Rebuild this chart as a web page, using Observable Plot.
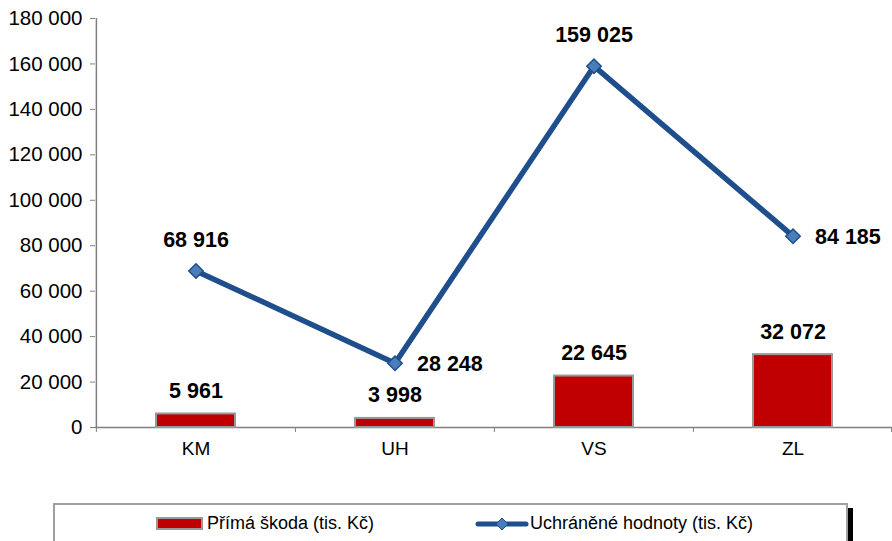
<!DOCTYPE html>
<html><head><meta charset="utf-8">
<script src="https://cdn.jsdelivr.net/npm/d3@7"></script>
<script src="https://cdn.jsdelivr.net/npm/@observablehq/plot@0.6"></script>
<style>
body{margin:0;background:#fff;font-family:"Liberation Sans",Arial,sans-serif;overflow:hidden;width:892px;height:541px;position:relative}
#legend{position:absolute;left:53px;top:503px;width:791px;height:45px;border:2px solid #a0a0a0;box-shadow:5px 5px 0 #000;background:#fff;font-size:18px;color:#000}
.item{position:absolute;top:8px;display:flex;align-items:center;white-space:nowrap}
</style></head><body>
<div id="chart"></div>
<div id="legend">
 <div class="item" style="left:100px"><svg width="50" height="16"><rect x="2" y="2" width="45" height="11" fill="#C00000" stroke="#999" stroke-width="2"/></svg><span style="margin-left:2px">Přímá škoda (tis. Kč)</span></div>
 <div class="item" style="left:420px"><svg width="54" height="16"><line x1="3" y1="8" x2="51" y2="8" stroke="#1F4E8C" stroke-width="5" stroke-linecap="round"/><path d="M27 2 L33 8 L27 14 L21 8 Z" fill="#4A7EBB" stroke="#1F4E8C" stroke-width="1"/></svg><span style="margin-left:1px">Uchráněné hodnoty (tis. Kč)</span></div>
</div>
<script>
const categories = ["KM","UH","VS","ZL"];
const primaSkoda = [5961, 3998, 22645, 32072];
const uchraneneHodnoty = [68916, 28248, 159025, 84185];
const yTicks = [0,20000,40000,60000,80000,100000,120000,140000,160000,180000];

const loc = d3.formatLocale({decimal:",", thousands:" ", grouping:[3], currency:["",""]});
const fmt = loc.format(",d");
const bars = categories.map((c,i)=>({cat:c, v:primaSkoda[i]}));
const pts = categories.map((c,i)=>({cat:c, v:uchraneneHodnoty[i], i}));
const half = 99.6;

const plot = Plot.plot({
  width: 892, height: 470,
  marginLeft: 95, marginRight: 0, marginTop: 18, marginBottom: 43,
  style: {fontFamily: '"Liberation Sans", Arial, sans-serif', fontSize: "18px", color: "#000", background: "#fff"},
  x: {domain: categories, padding: 0, label: null},
  y: {domain: [0,180000], label: null},
  marks: [
    Plot.axisY({ticks: yTicks, tickFormat: fmt, tickSize: 5, tickPadding: 8, stroke: "#808080", fontSize: 20.5, label: null}),
    Plot.axisX({tickSize: 0, tickPadding: 14, fontSize: 19, label: null}),
    Plot.ruleX([categories[0]], {x: d=>d, y1: 0, y2: 180000, dx: -half, stroke: "#808080", strokeWidth: 1.5}),
    Plot.ruleY([0], {stroke: "#808080", strokeWidth: 1.5}),
    Plot.ruleX(categories, {x: d=>d, y1: 0, y2: -2200, dx: -half, stroke: "#808080"}),
    Plot.ruleX([categories[categories.length-1]], {x: d=>d, y1: 0, y2: -2200, dx: half - 1, stroke: "#808080"}),
    Plot.barY(bars, {x: "cat", y: "v", fill: "#C00000", stroke: "#999", strokeWidth: 2, insetLeft: 60, insetRight: 60}),
    Plot.text(bars, {x: "cat", y: "v", text: d=>fmt(d.v), dy: -23, fontWeight: "bold", fontSize: 21.5}),
    Plot.line(pts, {x: "cat", y: "v", stroke: "#1F4E8C", strokeWidth: 5.5, strokeLinejoin: "round"}),
    Plot.dot(pts, {x: "cat", y: "v", symbol: "diamond2", r: 6.5, fill: "#4A7EBB", stroke: "#1F4E8C", strokeWidth: 1.5}),
    Plot.text(pts.filter(d=>d.i%2===0), {x: "cat", y: "v", text: d=>fmt(d.v), dy: -31, fontWeight: "bold", fontSize: 21.5}),
    Plot.text(pts.filter(d=>d.i%2===1), {x: "cat", y: "v", text: d=>fmt(d.v), dx: 22, dy: 1, textAnchor: "start", fontWeight: "bold", fontSize: 21.5})
  ]
});
document.getElementById("chart").appendChild(plot);
</script>
</body></html>
